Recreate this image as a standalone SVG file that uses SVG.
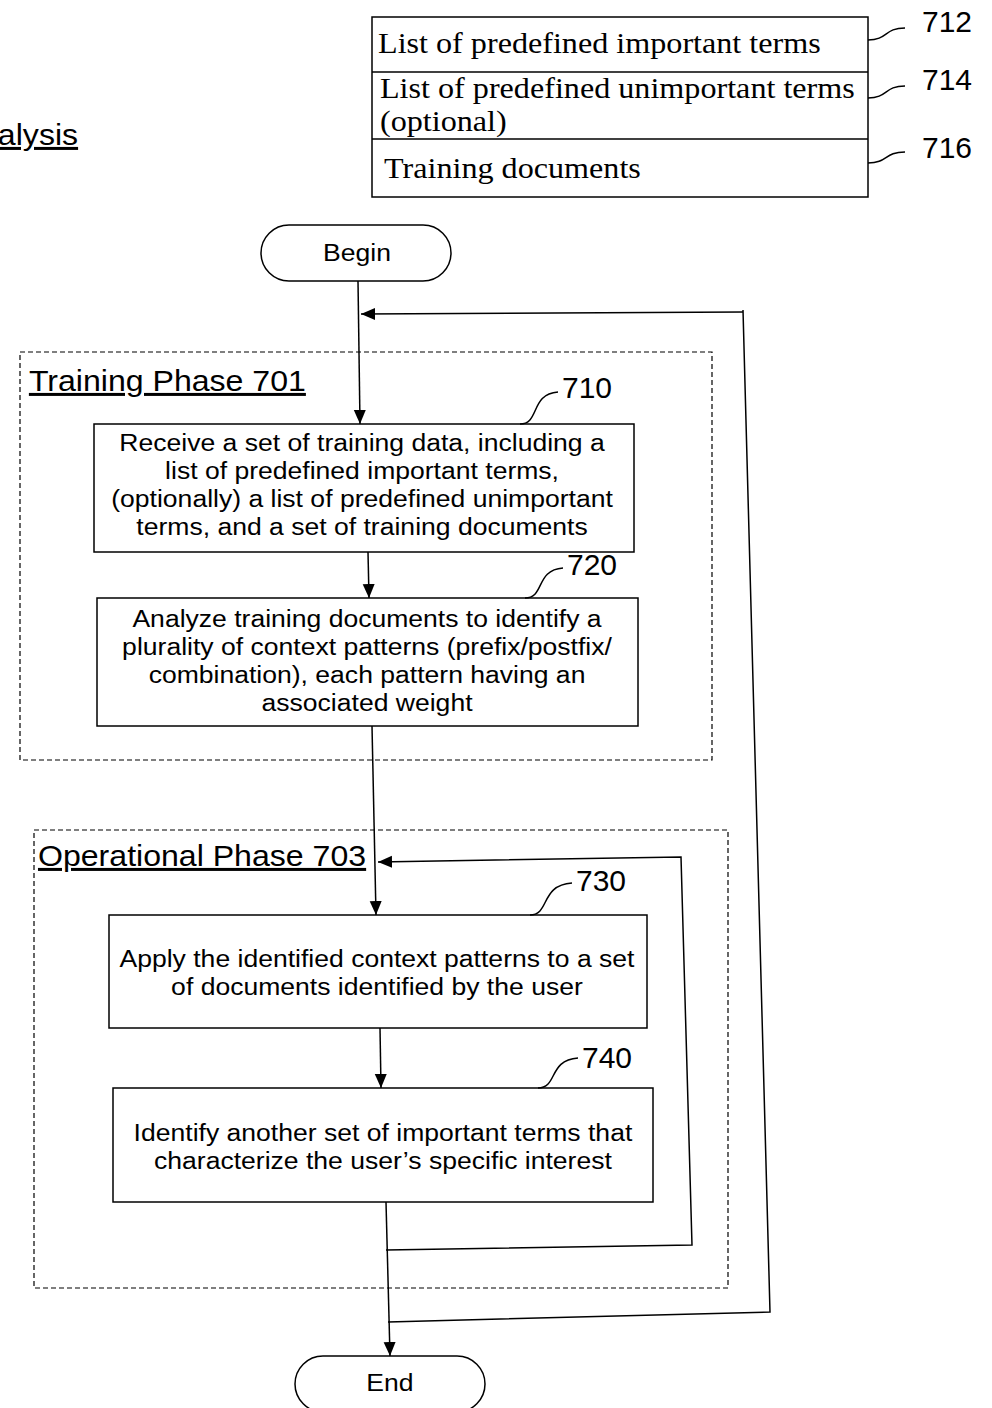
<svg xmlns="http://www.w3.org/2000/svg" width="992" height="1408" viewBox="0 0 992 1408">
<defs>
<style>
.box{fill:none;stroke:#000;stroke-width:1.5}
.dash{fill:none;stroke:#000;stroke-width:1.2;stroke-dasharray:5,3}
.ln{fill:none;stroke:#000;stroke-width:1.5}
.t{font-family:"Liberation Sans",Arial,sans-serif;font-size:23.5px;fill:#000;text-anchor:middle}
.num{font-family:"Liberation Sans",Arial,sans-serif;font-size:30px;fill:#000}
.ser{font-family:"Liberation Serif","Times New Roman",serif;font-size:29.5px;fill:#000}
.hd{font-family:"Liberation Sans",Arial,sans-serif;font-size:30px;fill:#000;text-decoration:underline}
</style>
<marker id="ah" markerWidth="16" markerHeight="16" refX="14" refY="6" orient="auto" markerUnits="userSpaceOnUse">
<path d="M0,0 L14,6 L0,12 Z" fill="#000"/>
</marker>
</defs>

<g transform="scale(1.07,1)"><text class="hd" x="-2" y="145">alysis</text></g>

<g id="table">
<rect class="box" x="372" y="17" width="496" height="180"/>
<line class="ln" x1="372" y1="72" x2="868" y2="72"/>
<line class="ln" x1="372" y1="139" x2="868" y2="139"/>
<g transform="scale(1.09,1)">
<text class="ser" x="346.8" y="53">List of predefined important terms</text>
<text class="ser" x="348.6" y="98">List of predefined unimportant terms</text>
<text class="ser" x="348.6" y="131">(optional)</text>
<text class="ser" x="352.3" y="178">Training documents</text>
</g>
<path class="ln" d="M868,40 C888,40 884,28 905,28"/>
<path class="ln" d="M868,98 C888,98 884,86 905,86"/>
<path class="ln" d="M868,163 C888,163 884,152 905,152"/>
<text class="num" x="922" y="32">712</text>
<text class="num" x="922" y="90">714</text>
<text class="num" x="922" y="158">716</text>
</g>

<g id="begin">
<rect class="box" x="261" y="225" width="190" height="56" rx="28" ry="28"/>
<g transform="scale(1.13,1)"><text class="t" x="315.9" y="261">Begin</text></g>
</g>

<g id="training-phase">
<rect class="dash" x="20" y="352" width="692" height="408"/>
<g transform="scale(1.07,1)"><text class="hd" x="27" y="391">Training Phase 701</text></g>
</g>

<g id="step710">
<rect class="box" x="94" y="424" width="540" height="128"/>
<g transform="scale(1.13,1)">
<text class="t" x="320.4" y="451">Receive a set of training data, including a</text>
<text class="t" x="320.4" y="479">list of predefined important terms,</text>
<text class="t" x="320.4" y="507">(optionally) a list of predefined unimportant</text>
<text class="t" x="320.4" y="535">terms, and a set of training documents</text>
</g>
<path class="ln" d="M520,424 C540,424 530,394 558,392"/>
<text class="num" x="562" y="398">710</text>
</g>

<g id="step720">
<rect class="box" x="97" y="598" width="541" height="128"/>
<g transform="scale(1.13,1)">
<text class="t" x="324.8" y="627">Analyze training documents to identify a</text>
<text class="t" x="324.8" y="655">plurality of context patterns (prefix/postfix/</text>
<text class="t" x="324.8" y="683">combination), each pattern having an</text>
<text class="t" x="324.8" y="711">associated weight</text>
</g>
<path class="ln" d="M525,598 C545,598 535,570 563,568"/>
<text class="num" x="567" y="575">720</text>
</g>

<g id="operational-phase">
<rect class="dash" x="34" y="830" width="694" height="458"/>
<g transform="scale(1.07,1)"><text class="hd" x="35.5" y="866">Operational Phase 703</text></g>
</g>

<g id="step730">
<rect class="box" x="109" y="915" width="538" height="113"/>
<g transform="scale(1.13,1)">
<text class="t" x="333.6" y="967">Apply the identified context patterns to a set</text>
<text class="t" x="333.6" y="995">of documents identified by the user</text>
</g>
<path class="ln" d="M530,915 C550,915 540,885 572,883"/>
<text class="num" x="576" y="891">730</text>
</g>

<g id="step740">
<rect class="box" x="113" y="1088" width="540" height="114"/>
<g transform="scale(1.13,1)">
<text class="t" x="338.9" y="1141">Identify another set of important terms that</text>
<text class="t" x="338.9" y="1169">characterize the user’s specific interest</text>
</g>
<path class="ln" d="M538,1088 C558,1088 548,1060 578,1058"/>
<text class="num" x="582" y="1068">740</text>
</g>

<g id="end">
<rect class="box" x="295" y="1356" width="190" height="56" rx="28" ry="28"/>
<g transform="scale(1.13,1)"><text class="t" x="345.1" y="1391">End</text></g>
</g>

<g id="connectors">
<line class="ln" x1="358" y1="281" x2="360" y2="424" marker-end="url(#ah)"/>
<path class="ln" d="M743,312 L361,314" marker-end="url(#ah)"/>
<line class="ln" x1="368" y1="552" x2="369" y2="598" marker-end="url(#ah)"/>
<line class="ln" x1="372" y1="726" x2="376" y2="915" marker-end="url(#ah)"/>
<line class="ln" x1="380" y1="1028" x2="381" y2="1088" marker-end="url(#ah)"/>
<line class="ln" x1="386" y1="1202" x2="390" y2="1356" marker-end="url(#ah)"/>
<path class="ln" d="M386,1250 L692,1245 L681,857 L378,862" marker-end="url(#ah)"/>
<path class="ln" d="M388,1322 L770,1312 L743,310"/>
</g>
</svg>
